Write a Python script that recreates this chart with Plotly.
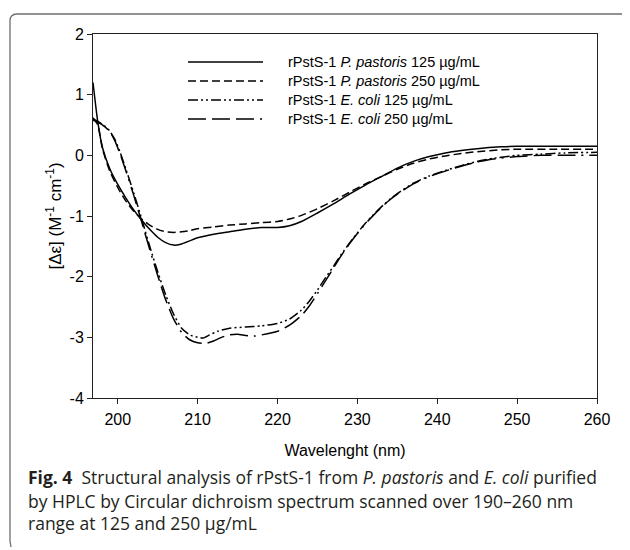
import plotly.graph_objects as go

# ---------------- data ----------------
wl_pp125 = [196.9, 197.5, 198.1, 199.0, 200.0, 201.0, 202.0, 203.0, 204.0, 205.0, 206.0, 207.0,
            208.0, 209.0, 210.0, 212.0, 214.0, 216.0, 218.0, 220.0, 221.5, 223.0, 225.0, 227.0,
            229.0, 231.0, 233.0, 235.0, 237.0, 239.0, 241.0, 243.0, 245.0, 248.0, 250.0, 255.0, 260.0]
cd_pp125 = [1.20, 0.55, 0.12, -0.22, -0.48, -0.70, -0.90, -1.07, -1.22, -1.35, -1.44, -1.48,
            -1.46, -1.41, -1.36, -1.30, -1.26, -1.22, -1.19, -1.19, -1.16, -1.09, -0.95, -0.80,
            -0.64, -0.49, -0.35, -0.21, -0.10, -0.02, 0.04, 0.08, 0.11, 0.14, 0.15, 0.15, 0.15]

wl_pp250 = [196.9, 197.5, 198.1, 199.0, 200.0, 201.0, 202.0, 203.0, 204.0, 205.0, 206.0, 207.0,
            208.0, 209.0, 210.0, 212.0, 214.0, 216.0, 218.0, 220.0, 221.5, 223.0, 225.0, 227.0,
            229.0, 231.0, 233.0, 235.0, 237.0, 239.0, 241.0, 243.0, 245.0, 248.0, 250.0, 255.0, 260.0]
cd_pp250 = [0.62, 0.50, 0.10, -0.26, -0.53, -0.75, -0.92, -1.05, -1.15, -1.22, -1.26, -1.27,
            -1.26, -1.24, -1.21, -1.18, -1.15, -1.13, -1.11, -1.09, -1.05, -0.99, -0.88, -0.75,
            -0.61, -0.47, -0.35, -0.23, -0.13, -0.06, -0.01, 0.03, 0.06, 0.09, 0.10, 0.10, 0.10]

wl_ec125 = [196.9, 197.5, 198.4, 199.0, 199.6, 200.3, 201.0, 202.0, 203.0, 204.0, 205.0, 206.0,
            207.0, 208.0, 209.0, 210.0, 210.7, 211.5, 212.5, 214.0, 216.0, 218.0, 220.0, 221.5,
            223.0, 224.0, 225.0, 226.0, 227.0, 228.0, 229.0, 230.0, 231.0, 232.0, 233.0, 234.0,
            235.0, 237.0, 239.0, 241.0, 243.0, 245.0, 247.0, 250.0, 253.0, 256.0, 260.0]
cd_ec125 = [0.60, 0.56, 0.48, 0.40, 0.27, 0.05, -0.22, -0.62, -1.05, -1.50, -1.92, -2.30,
            -2.62, -2.85, -2.96, -3.00, -3.01, -2.96, -2.90, -2.85, -2.83, -2.81, -2.77, -2.70,
            -2.55, -2.40, -2.22, -2.02, -1.83, -1.63, -1.45, -1.28, -1.12, -0.98, -0.85, -0.73,
            -0.63, -0.46, -0.34, -0.25, -0.17, -0.10, -0.05, 0.00, 0.02, 0.04, 0.05]

wl_ec250 = [196.9, 197.5, 198.4, 199.0, 199.6, 200.3, 201.0, 202.0, 203.0, 204.0, 205.0, 206.0,
            207.0, 208.0, 209.0, 210.0, 211.0, 212.0, 213.0, 214.0, 215.0, 216.0, 217.0, 218.0,
            220.0, 221.5, 223.0, 224.0, 225.0, 226.0, 227.0, 228.0, 229.0, 230.0, 231.0, 232.0,
            233.0, 234.0, 235.0, 237.0, 239.0, 241.0, 243.0, 245.0, 247.0, 250.0, 253.0, 256.0, 260.0]
cd_ec250 = [0.58, 0.55, 0.47, 0.39, 0.25, 0.02, -0.25, -0.66, -1.10, -1.55, -1.98, -2.38,
            -2.70, -2.92, -3.04, -3.09, -3.10, -3.06, -3.00, -2.96, -2.95, -2.97, -2.98, -2.96,
            -2.90, -2.80, -2.64, -2.48, -2.28, -2.07, -1.86, -1.65, -1.46, -1.29, -1.13, -0.99,
            -0.86, -0.74, -0.64, -0.47, -0.35, -0.26, -0.18, -0.11, -0.06, -0.02, 0.00, 0.00, 0.00]

series_names = [
    "rPstS-1 <i>P. pastoris</i> 125 \u00b5g/mL",
    "rPstS-1 <i>P. pastoris</i> 250 \u00b5g/mL",
    "rPstS-1 <i>E. coli</i> 125 \u00b5g/mL",
    "rPstS-1 <i>E. coli</i> 250 \u00b5g/mL",
]

x_tickvals = [200, 210, 220, 230, 240, 250, 260]
x_ticktext = ["200", "210", "220", "230", "240", "250", "260"]
y_tickvals = [-4, -3, -2, -1, 0, 1, 2]
y_ticktext = ["-4", "-3", "-2", "-1", "0", "1", "2"]

caption_lines = [
    "<b>Fig. 4</b>  Structural analysis of rPstS-1 from <i>P. pastoris</i> and <i>E. coli</i> purified",
    "by HPLC by Circular dichroism spectrum scanned over 190\u2013260 nm",
    "range at 125 and 250 \u00b5g/mL",
]

# ---------------- figure ----------------
# page body has an 8px margin, so the figure is made 8px smaller and
# all screen positions below are converted through the plot area.
OFF = 8
W, H = 630 - OFF, 550 - OFF
L, R, T, B = 93, 597, 34, 398  # plot area in screen pixels


def fx(px):
    return (px - L) / (R - L)


def fy(py):
    return (B - py) / (B - T)


dashes = ["solid", "8px,4px", "10px,3px,2px,3px,2px,3px", "18px,6px,18px,6px,18px,6px,2px,6px"]
data = [(wl_pp125, cd_pp125), (wl_pp250, cd_pp250), (wl_ec125, cd_ec125), (wl_ec250, cd_ec250)]

fig = go.Figure()
for (xs, ys), name, dash in zip(data, series_names, dashes):
    fig.add_trace(go.Scatter(
        x=xs, y=ys, mode="lines", name=name, showlegend=False,
        line=dict(color="black", width=1.5, dash=dash, shape="spline", smoothing=0.6),
    ))

axis_font = dict(family="Liberation Sans, Arial, sans-serif", size=16, color="black")

fig.update_layout(
    width=W, height=H,
    margin=dict(l=L - OFF, r=W - (R - OFF), t=T - OFF, b=H - (B - OFF), pad=0),
    paper_bgcolor="white", plot_bgcolor="white",
    font=dict(family="Liberation Sans, Arial, sans-serif", color="black"),
    showlegend=False,
    xaxis=dict(
        range=[196.9, 260], tickvals=x_tickvals, ticktext=x_ticktext,
        ticks="outside", ticklen=5, tickwidth=1, tickcolor="#222",
        showline=True, linecolor="#222", linewidth=1, mirror=True,
        showgrid=False, zeroline=False, tickfont=axis_font, ticklabelstandoff=2,
        title=dict(text="Wavelenght (nm)", font=axis_font, standoff=17),
    ),
    yaxis=dict(
        range=[-4, 2], tickvals=y_tickvals, ticktext=y_ticktext,
        ticks="outside", ticklen=5, tickwidth=1, tickcolor="#222",
        showline=True, linecolor="#222", linewidth=1, mirror=True,
        showgrid=False, zeroline=False, tickfont=axis_font,
        title=dict(text="[\u0394\u03b5] (M<sup>-1</sup> cm<sup>-1</sup>)",
                   font=dict(family="Liberation Sans, Arial, sans-serif", size=17, color="black"),
                   standoff=3),
    ),
)

# legend drawn in the plot's upper area: sample line + label per series
legend_rows = [62, 81, 100, 119]
for name, dash, ry in zip(series_names, dashes, legend_rows):
    fig.add_shape(type="line", xref="paper", yref="paper",
                  x0=fx(188), x1=fx(263), y0=fy(ry), y1=fy(ry),
                  line=dict(color="black", width=1.5, dash=dash))
    fig.add_annotation(text=name, xref="paper", yref="paper", x=fx(286), y=fy(ry),
                       xanchor="left", yanchor="middle", showarrow=False,
                       font=dict(family="Liberation Sans, Arial, sans-serif", size=14.5, color="black"))

# frame of the figure panel (top and left border with rounded corner)
frame_path = (
    f"M {fx(11)},{fy(547)} L {fx(10)},{fy(541)} L {fx(10)},{fy(21)} "
    f"Q {fx(10)},{fy(14)} {fx(17)},{fy(14)} L {fx(625)},{fy(14)} "
    f"Q {fx(628)},{fy(14)} {fx(629)},{fy(16)}"
)
fig.add_shape(type="path", xref="paper", yref="paper", path=frame_path,
              line=dict(color="#6e6e6e", width=1.3), layer="above")

cap_font = dict(family="Open Sans, Noto Sans, sans-serif", size=17.5, color="#231f20")
for txt, cy in zip(caption_lines, [477, 501, 523]):
    fig.add_annotation(text=txt, xref="paper", yref="paper", x=fx(26), y=fy(cy),
                       xanchor="left", yanchor="middle", showarrow=False, align="left",
                       font=cap_font)

fig.write_html("out.html")
